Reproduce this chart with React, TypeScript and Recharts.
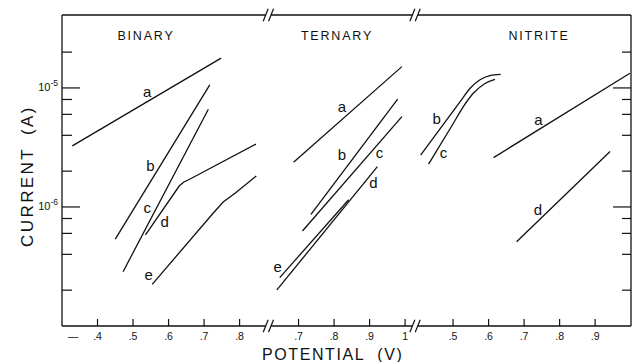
import { ComposedChart, Line, ReferenceDot, ReferenceLine, XAxis, YAxis } from "recharts"

const W = 632
const H = 362
const INK = "#111111"
const FONT = "'Liberation Sans', Arial, Helvetica, sans-serif"

type Panel = "binary" | "ternary" | "nitrite"
type Pt = [number, number] // [potential (V), current (A)]

// the potential axis is broken in three panels, each shifted onto one shared axis
const PANEL_OFFSET: Record<Panel, number> = { binary: 0, ternary: 0.266, nitrite: 0.901 }
const X_DOMAIN: [number, number] = [0.3, 1.902]
const Y_DOMAIN: [number, number] = [1e-7, 4.1e-5]

const binaryTicks = [0.4, 0.5, 0.6, 0.7, 0.8]
const ternaryTicks = [0.7, 0.8, 0.9, 1.0]
const nitriteTicks = [0.5, 0.6, 0.7, 0.8, 0.9]
const currentTicks = [2e-7, 4e-7, 6e-7, 8e-7, 1e-6, 2e-6, 4e-6, 6e-6, 8e-6, 1e-5, 2e-5]
const axisBreaks = [0.881, 1.294]

const binaryA: Pt[] = [[0.329, 3.26e-6], [0.748, 1.78e-5]]
const binaryB: Pt[] = [[0.45, 5.36e-7], [0.716, 1.06e-5]]
const binaryC: Pt[] = [[0.472, 2.86e-7], [0.712, 6.62e-6]]
const binaryD: Pt[] = [[0.535, 5.82e-7], [0.63, 1.5e-6], [0.643, 1.62e-6], [0.658, 1.7e-6], [0.846, 3.37e-6]]
const binaryE: Pt[] = [[0.554, 2.24e-7], [0.726, 8.9e-7], [0.754, 1.1e-6], [0.788, 1.31e-6], [0.847, 1.82e-6]]

const ternaryA: Pt[] = [[0.686, 2.38e-6], [0.991, 1.51e-5]]
const ternaryB: Pt[] = [[0.735, 8.68e-7], [0.979, 8.04e-6]]
const ternaryC: Pt[] = [[0.711, 6.28e-7], [0.991, 5.74e-6]]
const ternaryD: Pt[] = [[0.639, 2.01e-7], [0.922, 2.18e-6]]
const ternaryE: Pt[] = [[0.647, 2.55e-7], [0.841, 1.15e-6]]

const nitriteA: Pt[] = [[0.614, 2.6e-6], [0.998, 1.33e-5]]
const nitriteB: Pt[] = [[0.409, 2.73e-6], [0.52, 7.67e-6], [0.548, 9.94e-6], [0.576, 1.17e-5], [0.604, 1.27e-5], [0.634, 1.3e-5]]
const nitriteC: Pt[] = [[0.431, 2.29e-6], [0.501, 5.05e-6], [0.529, 6.97e-6], [0.557, 9.02e-6], [0.59, 1.09e-5], [0.618, 1.18e-5]]
const nitriteD: Pt[] = [[0.679, 5.11e-7], [0.942, 2.92e-6]]

const curves: { panel: Panel; name: string; points: Pt[]; smooth?: boolean }[] = [
  { panel: "binary", name: "a", points: binaryA },
  { panel: "binary", name: "b", points: binaryB },
  { panel: "binary", name: "c", points: binaryC },
  { panel: "binary", name: "d", points: binaryD },
  { panel: "binary", name: "e", points: binaryE },
  { panel: "ternary", name: "a", points: ternaryA },
  { panel: "ternary", name: "b", points: ternaryB },
  { panel: "ternary", name: "c", points: ternaryC },
  { panel: "ternary", name: "d", points: ternaryD },
  { panel: "ternary", name: "e", points: ternaryE },
  { panel: "nitrite", name: "a", points: nitriteA },
  { panel: "nitrite", name: "b", points: nitriteB, smooth: true },
  { panel: "nitrite", name: "c", points: nitriteC, smooth: true },
  { panel: "nitrite", name: "d", points: nitriteD },
]

// curve letters, placed in data units [potential, current]
const curveLabels: { panel: Panel; text: string; at: Pt }[] = [
  { panel: "binary", text: "a", at: [0.54, 9.3e-6] },
  { panel: "binary", text: "b", at: [0.549, 2.21e-6] },
  { panel: "binary", text: "c", at: [0.54, 9.75e-7] },
  { panel: "binary", text: "d", at: [0.589, 7.52e-7] },
  { panel: "binary", text: "e", at: [0.544, 2.68e-7] },
  { panel: "ternary", text: "a", at: [0.822, 6.96e-6] },
  { panel: "ternary", text: "b", at: [0.822, 2.73e-6] },
  { panel: "ternary", text: "c", at: [0.928, 2.86e-6] },
  { panel: "ternary", text: "d", at: [0.911, 1.58e-6] },
  { panel: "ternary", text: "e", at: [0.641, 3.15e-7] },
  { panel: "nitrite", text: "b", at: [0.454, 5.48e-6] },
  { panel: "nitrite", text: "c", at: [0.473, 2.83e-6] },
  { panel: "nitrite", text: "a", at: [0.74, 5.38e-6] },
  { panel: "nitrite", text: "d", at: [0.739, 9.44e-7] },
]

const panelTitles: { text: string; x: number }[] = [
  { text: "BINARY", x: 146 },
  { text: "TERNARY", x: 337 },
  { text: "NITRITE", x: 539 },
]

function fmtPotential(v: number): string {
  if (Math.abs(v - 1) < 1e-9) return "1"
  return `.${Math.round(v * 10)}`
}

const xTickList = [
  { t: 0.331, label: "\u2014", mark: false },
  ...binaryTicks.map((v) => ({ t: v + PANEL_OFFSET.binary, label: fmtPotential(v), mark: true })),
  ...ternaryTicks.map((v) => ({ t: v + PANEL_OFFSET.ternary, label: fmtPotential(v), mark: true })),
  ...nitriteTicks.map((v) => ({ t: v + PANEL_OFFSET.nitrite, label: fmtPotential(v), mark: true })),
]
const topTicks = xTickList.filter((d) => d.mark).map((d) => d.t)

function findTick(value: number) {
  return xTickList.find((d) => Math.abs(d.t - value) < 1e-6)
}

function isDecade(v: number): boolean {
  const e = Math.log10(v)
  return Math.abs(e - Math.round(e)) < 1e-6
}

function BottomTick(props: any) {
  const { x, y, payload } = props
  const tick = findTick(payload.value)
  if (!tick) return null
  return (
    <g>
      {tick.mark && <line x1={x} x2={x} y1={y} y2={y - 7} stroke={INK} strokeWidth={1.2} />}
      <text x={x} y={y + 13.5} textAnchor="middle" fontSize={10.5} fontFamily={FONT} fill={INK}>
        {tick.label}
      </text>
    </g>
  )
}

function TopTick(props: any) {
  const { x, y } = props
  return <line x1={x} x2={x} y1={y} y2={y + 7} stroke={INK} strokeWidth={1.2} />
}

function LeftCurrentTick(props: any) {
  const { x, y, payload } = props
  const major = isDecade(payload.value)
  return (
    <g>
      <line x1={x} x2={x + (major ? 18 : 10)} y1={y} y2={y} stroke={INK} strokeWidth={1.2} />
      {major && (
        <text x={x - 4} y={y + 3.5} textAnchor="end" fontSize={11} fontFamily={FONT} fill={INK}>
          10
          <tspan dy={-5} fontSize={8.5}>
            {`-${Math.round(-Math.log10(payload.value))}`}
          </tspan>
        </text>
      )}
    </g>
  )
}

function RightCurrentTick(props: any) {
  const { x, y, payload } = props
  const major = isDecade(payload.value)
  return <line x1={x} x2={x - (major ? 18 : 9)} y1={y} y2={y} stroke={INK} strokeWidth={1.2} />
}

const GAP = 0.0075
const frameRuns: [number, number][] = [
  [X_DOMAIN[0], axisBreaks[0] - GAP],
  [axisBreaks[0] + GAP, axisBreaks[1] - GAP],
  [axisBreaks[1] + GAP, X_DOMAIN[1]],
]
const breakStrokes = axisBreaks.flatMap((b) =>
  Y_DOMAIN.flatMap((y) =>
    [-GAP, GAP].map((s) => [
      { x: b + s - 0.007, y: y / 1.13 },
      { x: b + s + 0.007, y: y * 1.13 },
    ]),
  ),
)

export default function App() {
  return (
    <div style={{ position: "absolute", left: 0, top: 0, width: W, height: H, background: "#fff" }}>
      <ComposedChart width={W} height={H} margin={{ top: 15, right: 0, bottom: 0, left: 0 }}>
        <XAxis
          xAxisId="bottom"
          type="number"
          dataKey="t"
          domain={X_DOMAIN}
          allowDataOverflow
          ticks={xTickList.map((d) => d.t)}
          interval={0}
          height={36}
          axisLine={false}
          tickLine={false}
          tickSize={0}
          tickMargin={0}
          tick={BottomTick}
        />
        <XAxis
          xAxisId="top"
          orientation="top"
          type="number"
          dataKey="t"
          domain={X_DOMAIN}
          allowDataOverflow
          ticks={topTicks}
          interval={0}
          height={0}
          axisLine={false}
          tickLine={false}
          tickSize={0}
          tickMargin={0}
          tick={TopTick}
        />
        <YAxis
          yAxisId="left"
          type="number"
          scale="log"
          domain={Y_DOMAIN}
          allowDataOverflow
          ticks={currentTicks}
          interval={0}
          width={62}
          axisLine={{ stroke: INK, strokeWidth: 1.3 }}
          tickLine={false}
          tickSize={0}
          tickMargin={0}
          tick={LeftCurrentTick}
        />
        <YAxis
          yAxisId="right"
          orientation="right"
          type="number"
          scale="log"
          domain={Y_DOMAIN}
          allowDataOverflow
          ticks={currentTicks}
          interval={0}
          width={1}
          axisLine={{ stroke: INK, strokeWidth: 1.3 }}
          tickLine={false}
          tickSize={0}
          tickMargin={0}
          tick={RightCurrentTick}
        />

        {Y_DOMAIN.flatMap((y) =>
          frameRuns.map(([x0, x1]) => (
            <ReferenceLine
              key={`frame-${y}-${x0}`}
              xAxisId="bottom"
              yAxisId="left"
              segment={[{ x: x0, y }, { x: x1, y }]}
              stroke={INK}
              strokeWidth={1.3}
              ifOverflow="visible"
            />
          )),
        )}
        {breakStrokes.map((seg, i) => (
          <ReferenceLine
            key={`break-${i}`}
            xAxisId="bottom"
            yAxisId="left"
            segment={seg}
            stroke={INK}
            strokeWidth={1.2}
            ifOverflow="visible"
          />
        ))}

        {curves.map((c) => (
          <Line
            key={`${c.panel}-${c.name}`}
            xAxisId="bottom"
            yAxisId="left"
            data={c.points.map(([v, i]) => ({ t: v + PANEL_OFFSET[c.panel], i }))}
            dataKey="i"
            type={c.smooth ? "monotone" : "linear"}
            stroke={INK}
            strokeWidth={1.3}
            dot={false}
            activeDot={false}
            isAnimationActive={false}
          />
        ))}

        {curveLabels.map((l, idx) => (
          <ReferenceDot
            key={`label-${idx}`}
            xAxisId="bottom"
            yAxisId="left"
            x={l.at[0] + PANEL_OFFSET[l.panel]}
            y={l.at[1]}
            r={0}
            ifOverflow="visible"
            shape={(p: any) => (
              <text
                x={p.cx}
                y={p.cy + 5}
                textAnchor="middle"
                fontSize={15}
                fontFamily={FONT}
                fill={INK}
              >
                {l.text}
              </text>
            )}
          />
        ))}
      </ComposedChart>

      <svg
        width={W}
        height={H}
        style={{ position: "absolute", left: 0, top: 0, pointerEvents: "none" }}
      >
        {panelTitles.map((p) => (
          <text
            key={p.text}
            x={p.x}
            y={39.5}
            textAnchor="middle"
            fontSize={12.5}
            letterSpacing={1.8}
            fontFamily={FONT}
            fill={INK}
          >
            {p.text}
          </text>
        ))}
        <text x={262} y={360} fontSize={16} letterSpacing={1.6} fontFamily={FONT} fill={INK}>
          POTENTIAL
          <tspan dx={12}>(V)</tspan>
        </text>
        <text
          transform="translate(33,176) rotate(-90)"
          textAnchor="middle"
          fontSize={17}
          letterSpacing={2.4}
          fontFamily={FONT}
          fill={INK}
        >
          CURRENT
          <tspan dx={12}>(A)</tspan>
        </text>
      </svg>
    </div>
  )
}
